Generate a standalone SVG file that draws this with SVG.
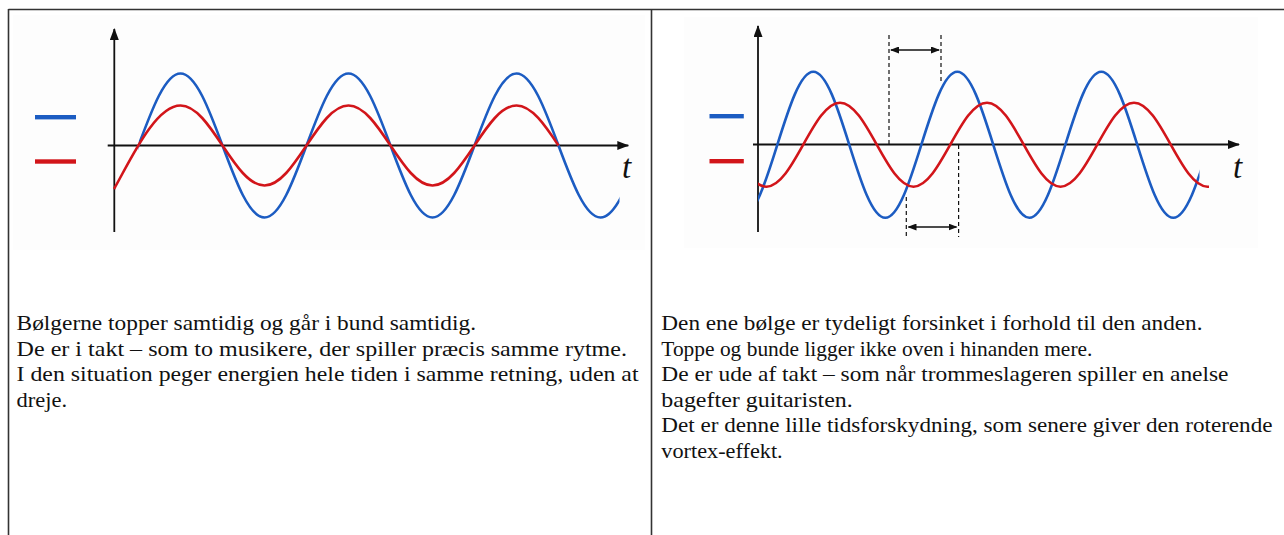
<svg xmlns="http://www.w3.org/2000/svg" width="1284" height="535" viewBox="0 0 1284 535">
<style>
.border{stroke:#333;stroke-width:1.6;fill:none}
.imgbg{fill:#fdfdfd}
.axis{stroke:#111;stroke-width:1.8;fill:none}
.blue{stroke:#1c5cc2;stroke-width:2.6;fill:none}
.red{stroke:#d2151a;stroke-width:2.6;fill:none}
.legb{fill:#1c5cc2}
.legr{fill:#d2151a}
.dash{stroke:#111;stroke-width:1.2;stroke-dasharray:4 3;fill:none}
.dbl{stroke:#111;stroke-width:1.4;fill:none}
.tl{font-family:"Liberation Serif","DejaVu Serif","Noto Serif",serif;font-style:italic;font-size:33px;fill:#111}
.txt{font-family:"Liberation Serif","DejaVu Serif","Noto Serif",serif;font-size:22px;fill:#111}
</style>
<defs>
<marker id="ax" markerUnits="userSpaceOnUse" markerWidth="12" markerHeight="9" refX="11" refY="4.5" orient="auto">
<path d="M0,0 L12,4.5 L0,9 z" fill="#111"/>
</marker>
<marker id="sm" markerUnits="userSpaceOnUse" markerWidth="9" markerHeight="7" refX="8" refY="3.5" orient="auto-start-reverse">
<path d="M0,0 L9,3.5 L0,7 z" fill="#111"/>
</marker>
<clipPath id="cbL"><rect x="138.5" y="0" width="481" height="260"/></clipPath>
<clipPath id="cbR"><rect x="758" y="0" width="441.5" height="260"/></clipPath>
<clipPath id="crR"><rect x="758" y="0" width="451" height="260"/></clipPath>
</defs>

<g id="table">
<line class="border" x1="8.5" y1="9.5" x2="1284" y2="9.5"/>
<line class="border" x1="8.5" y1="9" x2="8.5" y2="535"/>
<line class="border" x1="651.5" y1="9" x2="651.5" y2="535"/>
</g>

<g id="left-chart">
<rect class="imgbg" x="13" y="15" width="632" height="235"/>
<rect class="legb" x="35" y="115" width="41" height="4.4"/>
<rect class="legr" x="35" y="159.3" width="41" height="4.4"/>
<line class="axis" x1="114.3" y1="232" x2="114.3" y2="29" marker-end="url(#ax)"/>
<line class="axis" x1="107.7" y1="145.5" x2="628.3" y2="145.5" marker-end="url(#ax)"/>
<text class="tl" x="622" y="178">t</text>
<path class="blue" clip-path="url(#cbL)" d="M96.5,217.5 C127.03,217.5 149.97,73.5 180.5,73.5 S233.97,217.5 264.5,217.5 S317.97,73.5 348.5,73.5 S401.97,217.5 432.5,217.5 S485.97,73.5 516.5,73.5 S569.97,217.5 600.5,217.5 S653.97,73.5 684.5,73.5"/>
<path class="red" d="M114,189 C130,161 155,105.5 180.5,105.5 C211.03,105.5 233.97,185.5 264.5,185.5 S317.97,105.5 348.5,105.5 S401.97,185.5 432.5,185.5 S485.97,105.5 516.5,105.5 C531.77,105.5 545.13,125.5 558.5,145.5"/>
</g>

<g id="right-chart">
<rect class="imgbg" x="684" y="17" width="574" height="231"/>
<rect class="legb" x="709.5" y="114" width="34.3" height="4.4"/>
<rect class="legr" x="709.5" y="159" width="34.3" height="4.4"/>
<line class="axis" x1="758" y1="232" x2="758" y2="26" marker-end="url(#ax)"/>
<line class="axis" x1="753" y1="144.5" x2="1239" y2="144.5" marker-end="url(#ax)"/>
<text class="tl" x="1233" y="178">t</text>
<path class="blue" clip-path="url(#cbR)" d="M741.3,217.8 C767.46,217.8 787.14,71.8 813.3,71.8 S859.14,217.8 885.3,217.8 S931.14,71.8 957.3,71.8 S1003.14,217.8 1029.3,217.8 S1075.14,71.8 1101.3,71.8 S1147.14,217.8 1173.3,217.8 S1219.14,71.8 1245.3,71.8"/>
<path class="red" clip-path="url(#crR)" d="M693,102.7 C719.71,102.7 739.79,186.7 766.5,186.7 S813.29,102.7 840,102.7 S886.79,186.7 913.5,186.7 S960.29,102.7 987,102.7 S1033.79,186.7 1060.5,186.7 S1107.29,102.7 1134,102.7 S1180.79,186.7 1207.5,186.7 L1209,186.7"/>
</g>

<g id="connectors">
<line class="dash" x1="889" y1="35" x2="889" y2="144"/>
<line class="dash" x1="941" y1="35" x2="941" y2="83"/>
<line class="dash" x1="906.3" y1="197" x2="906.3" y2="237"/>
<line class="dash" x1="958.6" y1="145" x2="958.6" y2="237"/>
<line class="dbl" x1="891" y1="50" x2="939" y2="50" marker-start="url(#sm)" marker-end="url(#sm)"/>
<line class="dbl" x1="908.5" y1="227" x2="956.5" y2="227" marker-start="url(#sm)" marker-end="url(#sm)"/>
</g>

<g id="left-text" class="txt">
<text x="16.6" y="330" textLength="459.4" lengthAdjust="spacingAndGlyphs">Bølgerne topper samtidig og går i bund samtidig.</text>
<text x="16.6" y="355.5" textLength="610.4" lengthAdjust="spacingAndGlyphs">De er i takt – som to musikere, der spiller præcis samme rytme.</text>
<text x="16.6" y="381" textLength="621.9" lengthAdjust="spacingAndGlyphs">I den situation peger energien hele tiden i samme retning, uden at</text>
<text x="16.6" y="406.5" textLength="50.6" lengthAdjust="spacingAndGlyphs">dreje.</text>
</g>

<g id="right-text" class="txt">
<text x="661.3" y="330" textLength="541.2" lengthAdjust="spacingAndGlyphs">Den ene bølge er tydeligt forsinket i forhold til den anden.</text>
<text x="661.3" y="355.5" textLength="431.1" lengthAdjust="spacingAndGlyphs">Toppe og bunde ligger ikke oven i hinanden mere.</text>
<text x="661.3" y="381" textLength="567.2" lengthAdjust="spacingAndGlyphs">De er ude af takt – som når trommeslageren spiller en anelse</text>
<text x="661.3" y="406.5" textLength="191.5" lengthAdjust="spacingAndGlyphs">bagefter guitaristen.</text>
<text x="661.3" y="432" textLength="611.2" lengthAdjust="spacingAndGlyphs">Det er denne lille tidsforskydning, som senere giver den roterende</text>
<text x="661.3" y="457.5" textLength="121.4" lengthAdjust="spacingAndGlyphs">vortex-effekt.</text>
</g>
</svg>
